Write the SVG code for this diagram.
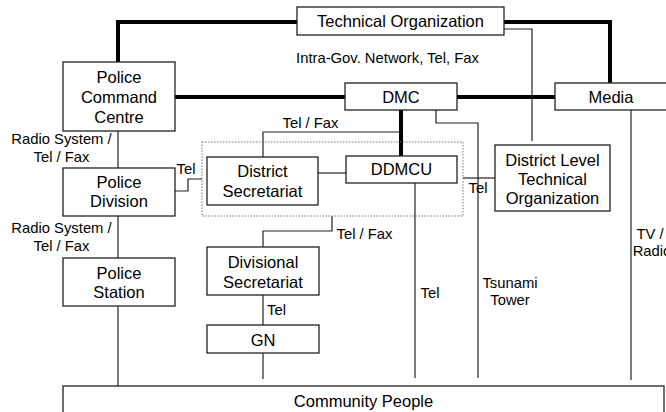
<svg xmlns="http://www.w3.org/2000/svg" width="666" height="412" viewBox="0 0 666 412">
<style>
.box{fill:#fff;stroke:#222;stroke-width:1.3}
.t{font-family:"Liberation Sans",Arial,sans-serif;font-size:16.5px;fill:#000;text-anchor:middle}
.s{font-family:"Liberation Sans",Arial,sans-serif;font-size:14.8px;fill:#000;text-anchor:middle}
.thick{fill:none;stroke:#000;stroke-width:4}
.thin{fill:none;stroke:#222;stroke-width:1.2}
.dot{fill:none;stroke:#777;stroke-width:1;stroke-dasharray:1.5,1.5}
</style>
<rect width="666" height="412" fill="#fff"/>
<g id="connectors">
<path class="thick" d="M118,62 V22 H297"/>
<path class="thick" d="M504,22 H610 V83"/>
<path class="thick" d="M175,97 H345"/>
<path class="thick" d="M457,97 H555"/>
<path class="thick" d="M401,110 V156"/>
<path class="thin" d="M504,29 H532 V141"/>
<path class="thin" d="M436,110 V123 H478 V378"/>
<path class="thin" d="M263,157 V132 H401"/>
<path class="thin" d="M318,173 H346"/>
<path class="thin" d="M463,178 H495"/>
<path class="thin" d="M175,191 H188 V179 H202"/>
<path class="thin" d="M118,131 V168"/>
<path class="thin" d="M118,216 V258"/>
<path class="thin" d="M118,306 V389"/>
<path class="thin" d="M332,216 V231 H263 V247"/>
<path class="thin" d="M263,295 V325"/>
<path class="thin" d="M263,353 V379"/>
<path class="thin" d="M415,183 V378"/>
<path class="thin" d="M631,110 V380"/>
<rect class="dot" x="202" y="142" width="261" height="74"/>
<text class="s" x="387.5" y="63">Intra-Gov. Network, Tel, Fax</text>
<text class="s" x="61.5" y="144">Radio System /</text>
<text class="s" x="61.5" y="162">Tel / Fax</text>
<text class="s" x="61.5" y="233">Radio System /</text>
<text class="s" x="61.5" y="251">Tel / Fax</text>
<text class="s" x="186" y="174">Tel</text>
<text class="s" x="310.5" y="128">Tel / Fax</text>
<text class="s" x="478" y="193">Tel</text>
<text class="s" x="364.5" y="239">Tel / Fax</text>
<text class="s" x="276.5" y="315">Tel</text>
<text class="s" x="430" y="298">Tel</text>
<text class="s" x="510" y="288">Tsunami</text>
<text class="s" x="510" y="305">Tower</text>
<text class="s" x="650" y="239">TV /</text>
<text class="s" x="652" y="256">Radio</text>
</g>
<g id="tech-org"><rect class="box" x="297" y="7" width="207" height="28"/><text class="t" x="400.5" y="27">Technical Organization</text></g>
<g id="pcc"><rect class="box" x="63" y="62" width="112" height="69"/><text class="t" x="119" y="83">Police</text><text class="t" x="119" y="103">Command</text><text class="t" x="119" y="123">Centre</text></g>
<g id="dmc"><rect class="box" x="345" y="83" width="112" height="27"/><text class="t" x="401" y="103">DMC</text></g>
<g id="media"><rect class="box" x="555" y="83" width="113" height="27"/><text class="t" x="611" y="103">Media</text></g>
<g id="ds"><rect class="box" x="207" y="157" width="111" height="48"/><text class="t" x="262.5" y="177">District</text><text class="t" x="262.5" y="197">Secretariat</text></g>
<g id="ddmcu"><rect class="box" x="346" y="156" width="111" height="27"/><text class="t" x="401.5" y="175">DDMCU</text></g>
<g id="dlto"><rect class="box" x="495" y="145" width="115" height="66"/><text class="t" x="552.5" y="166">District Level</text><text class="t" x="552.5" y="185">Technical</text><text class="t" x="552.5" y="204">Organization</text></g>
<g id="pd"><rect class="box" x="63" y="168" width="112" height="48"/><text class="t" x="119" y="188">Police</text><text class="t" x="119" y="207">Division</text></g>
<g id="ps"><rect class="box" x="63" y="258" width="112" height="48"/><text class="t" x="119" y="279">Police</text><text class="t" x="119" y="298">Station</text></g>
<g id="divsec"><rect class="box" x="207" y="247" width="112" height="48"/><text class="t" x="263" y="268">Divisional</text><text class="t" x="263" y="288">Secretariat</text></g>
<g id="gn"><rect class="box" x="207" y="325" width="112" height="28"/><text class="t" x="263" y="346">GN</text></g>
<g id="community"><rect class="box" x="63" y="386" width="601" height="40"/><text class="t" x="363.5" y="407">Community People</text></g>
</svg>
